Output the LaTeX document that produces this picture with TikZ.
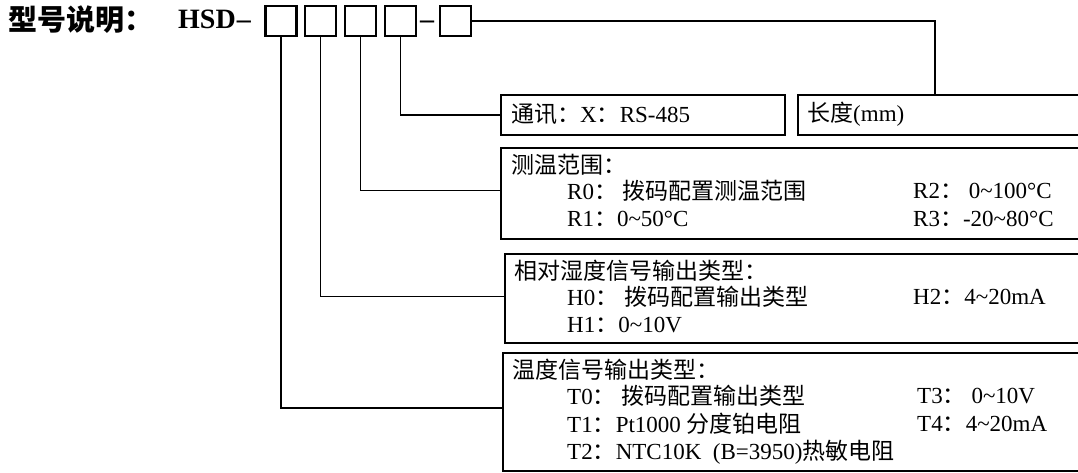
\documentclass[tikz,border=0pt]{standalone}
\usepackage{fontspec}
\setmainfont{Liberation Serif}
\newfontfamily\cjk{Noto Sans CJK SC}
\newcommand{\zh}[1]{{\cjk #1}}
\newcommand{\tl}{\textasciitilde}

\tikzset{
    codebox/.style={draw, line width=2.4pt, minimum width=31pt, minimum height=30pt, inner sep=0pt},
    infobox/.style={draw, line width=1.8pt, anchor=north west, inner sep=0pt},
    link/.style={line width=1.6pt},
    txt/.style={anchor=west, inner sep=0pt, font=\fontsize{23}{26}\selectfont},
    headtxt/.style={anchor=base west, inner sep=0pt, font=\fontsize{28}{31}\selectfont\bfseries},
}

\begin{document}
\begin{tikzpicture}[x=1pt, y=-1pt]
    \useasboundingbox (0,0) rectangle (1078,473);
    \clip (0,0) rectangle (1078,473);

    % Title
    \node[headtxt, font=\fontsize{29}{32}\selectfont\bfseries] (title) at (8,31) {\zh{型号说明：}};
    \node[headtxt] (hsd) at (178,28.5) {HSD\kern1pt--};

    % Code boxes
    \node[codebox] (b1) at (281,21) {};
    \node[codebox] (b2) at (320.5,21) {};
    \node[codebox] (b3) at (360.5,21) {};
    \node[codebox] (b4) at (400.5,21) {};
    \node[headtxt, anchor=base] (dash) at (427,28.5) {--};
    \node[codebox] (b5) at (455.5,21) {};

    % Info boxes
    \node[infobox, minimum width=284pt, minimum height=40pt] (commbox) at (500,94) {};
    \node[infobox, minimum width=300pt, minimum height=40pt] (lenbox) at (797,94) {};
    \node[infobox, minimum width=600pt, minimum height=91pt] (rangebox) at (500,147) {};
    \node[infobox, minimum width=600pt, minimum height=89pt] (humbox) at (504,253) {};
    \node[infobox, minimum width=600pt, minimum height=118pt] (tempbox) at (502,352) {};

    % Texts
    \node[txt] (comm) at (511,114) {\zh{通讯：}X\zh{：}RS-485};
    \node[txt] (len) at (807,114) {\zh{长度}(mm)};

    \node[txt] (rtitle) at (511,165) {\zh{测温范围：}};
    \node[txt] (r0) at (567,191) {R0\zh{：}\ \zh{拨码配置测温范围}};
    \node[txt] (r1) at (567,219) {R1\zh{：}0\tl50°C};
    \node[txt] (r2) at (913,191) {R2\zh{：}\ 0\tl100°C};
    \node[txt] (r3) at (913,219) {R3\zh{：}-20\tl80°C};

    \node[txt] (htitle) at (514,271) {\zh{相对湿度信号输出类型：}};
    \node[txt] (h0) at (567,297) {H0\zh{：}\ \zh{拨码配置输出类型}};
    \node[txt] (h1) at (567,325) {H1\zh{：}0\tl10V};
    \node[txt] (h2) at (913,297) {H2\zh{：}4\tl20mA};

    \node[txt] (ttitle) at (512,370) {\zh{温度信号输出类型：}};
    \node[txt] (t0) at (567,396) {T0\zh{：}\ \zh{拨码配置输出类型}};
    \node[txt] (t1) at (567,424) {T1\zh{：}Pt1000 \zh{分度铂电阻}};
    \node[txt] (t2) at (567,452) {T2\zh{：}NTC10K\ \ (B=3950)\zh{热敏电阻}};
    \node[txt] (t3) at (917,396) {T3\zh{：}\ 0\tl10V};
    \node[txt] (t4) at (917,424) {T4\zh{：}4\tl20mA};

    % Connectors
    \coordinate (lendrop) at (935,94);
    \draw[link] (b5.east) -| (lendrop);
    \draw[link] (b4.south) |- (commbox.west);
    \draw[link] (b3.south) |- ([yshift=3pt]rangebox.west);
    \draw[link] (b2.south) |- ([yshift=2pt]humbox.west);
    \draw[link] (b1.south) |- ([yshift=4pt]tempbox.west);
\end{tikzpicture}
\end{document}
